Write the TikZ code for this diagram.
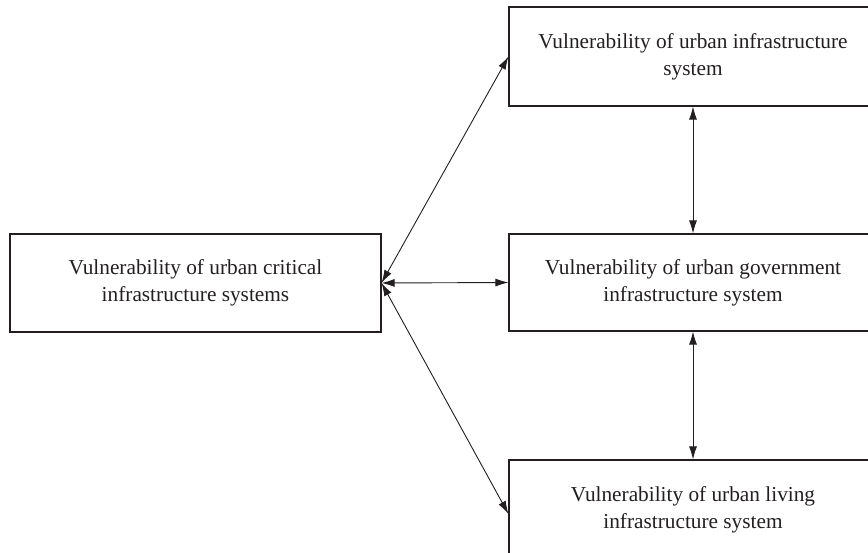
\documentclass[tikz,border=0pt]{standalone}
\usepackage{fontspec}
\setmainfont{Liberation Serif}
\usetikzlibrary{arrows.meta}
\definecolor{ink}{HTML}{231F20}
\begin{document}
\begin{tikzpicture}[x=1pt,y=-1pt,
  box/.style={draw=ink,line width=1.1pt,minimum width=371pt,minimum height=98pt,
    align=center,font=\fontsize{21.3}{27}\selectfont,text=ink,inner sep=0pt},
  link/.style={draw=ink,line width=0.9pt,{Latex[length=13pt,width=8pt]}-{Latex[length=13pt,width=8pt]}}]
\useasboundingbox (0,0) rectangle (868,553);
\clip (0,0) rectangle (868,553);
\node[box] (L) at (195.5,283) {Vulnerability of urban critical\\infrastructure systems};
\node[box,minimum width=368pt,minimum height=99pt] (T) at (693,56.5) {Vulnerability of urban infrastructure\\system};
\node[box,minimum width=368pt,minimum height=97pt] (M) at (693,282.5) {Vulnerability of urban government\\infrastructure system};
\node[box,minimum width=368pt,minimum height=100pt] (B) at (693,510) {Vulnerability of urban living\\infrastructure system};
\draw[link] (L.east) -- (T.west);
\draw[link] (L.east) -- (M.west);
\draw[link] (L.east) -- ([yshift=-4pt]B.west);
\draw[link] (T.south) -- (M.north);
\draw[link] (M.south) -- (B.north);
\end{tikzpicture}
\end{document}
